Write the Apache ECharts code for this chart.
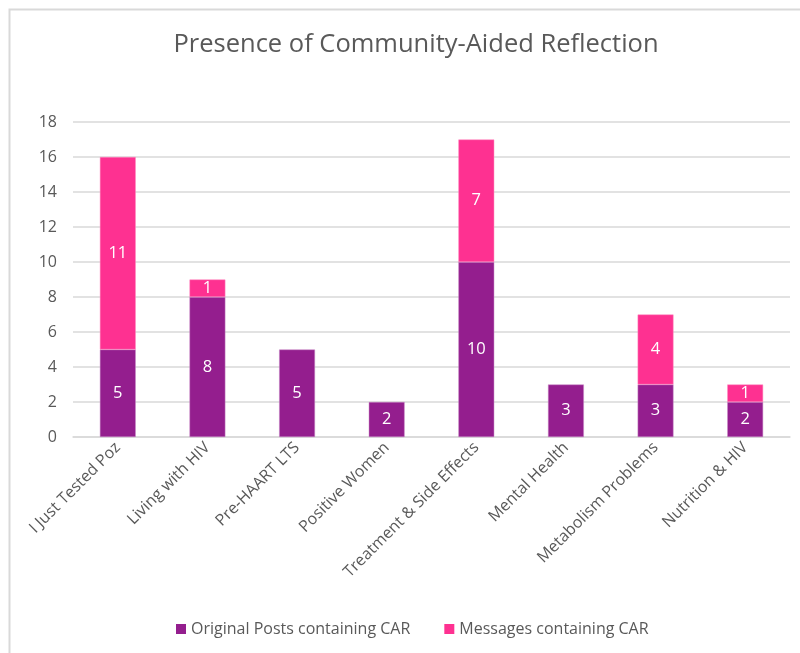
<!DOCTYPE html>
<html><head><meta charset="utf-8">
<script src="https://cdn.jsdelivr.net/npm/echarts@6/dist/echarts.min.js"></script>
<style>html,body{margin:0;padding:0;background:#fff}#c{width:800px;height:653px}</style>
</head><body><div id="c"></div>
<script>
const categories = ["I Just Tested Poz","Living with HIV","Pre-HAART LTS","Positive Women","Treatment & Side Effects","Mental Health","Metabolism Problems","Nutrition & HIV"];
const originalPosts = [5,8,5,2,10,3,3,2];
const messages = [11,1,null,null,7,null,4,1];
const yTicks = {min:0, max:18, interval:2};
const seriesNames = ["Original Posts containing CAR","Messages containing CAR"];

const FONT = '"Open Sans", "Noto Sans", sans-serif';
const chart = echarts.init(document.getElementById('c'), null, {renderer:'canvas'});
const lbl = {show:true, position:'inside', color:'#fff', fontSize:16.5, fontFamily:FONT};
chart.setOption({
  animation:false,
  title:{text:'Presence of Community-Aided Reflection', left:411, textAlign:'center', top:27,
    textStyle:{fontFamily:FONT, fontSize:25.5, fontWeight:'normal', color:'#595959'}},
  graphic:[{type:'rect', shape:{x:9.5,y:9.5,width:1000,height:1000}, style:{fill:'none', stroke:'#d9d9d9', lineWidth:2}}],
  grid:{left:73, right:10, top:122, bottom:216, containLabel:false},
  legend:{bottom:11, left:171, itemWidth:10, itemHeight:10, itemGap:34, icon:'rect',
    itemStyle:{borderWidth:0},
    textStyle:{fontFamily:FONT, fontSize:16, color:'#595959'}},
  xAxis:{type:'category', data:categories,
    axisLine:{lineStyle:{color:'#d9d9d9', width:1.5}}, axisTick:{show:false},
    axisLabel:{rotate:45, interval:0, margin:8, fontFamily:FONT, fontSize:16, color:'#595959'}},
  yAxis:{type:'value', min:yTicks.min, max:yTicks.max, interval:yTicks.interval,
    axisLine:{show:false}, axisTick:{show:false},
    splitLine:{lineStyle:{color:'#d9d9d9', width:1.5}},
    axisLabel:{margin:16, fontFamily:FONT, fontSize:16, color:'#595959'}},
  series:[
    {name:seriesNames[0], type:'bar', stack:'a', data:originalPosts, barWidth:'40%',
     itemStyle:{color:'#941e8e', borderColor:'#c98bc6', borderWidth:0.5}, label:lbl},
    {name:seriesNames[1], type:'bar', stack:'a', data:messages, barWidth:'40%',
     itemStyle:{color:'#fe3191', borderColor:'#ff8cc0', borderWidth:0.5}, label:lbl}
  ]
});
</script></body></html>
